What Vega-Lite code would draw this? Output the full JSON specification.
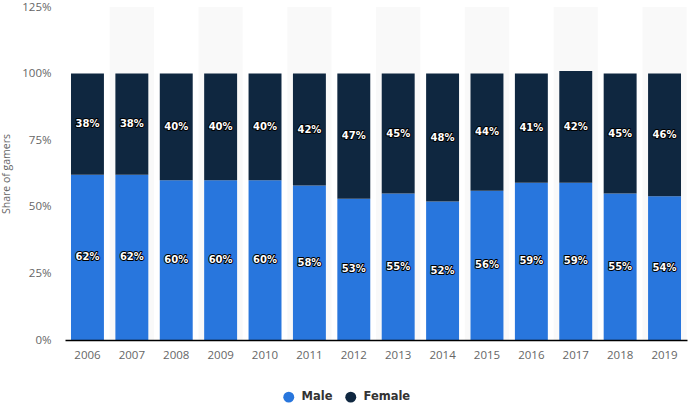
{
  "$schema": "https://vega.github.io/schema/vega-lite/v6.json",
  "width": 622,
  "height": 333,
  "autosize": {"type": "none"},
  "padding": {"left": 65, "top": 7, "right": 7, "bottom": 68},
  "background": "white",
  "config": {"view": {"stroke": null}, "font": "Open Sans"},
  "data": {
    "values": [
      {"year": 2006, "sex": "Male", "share": 0.62}, {"year": 2006, "sex": "Female", "share": 0.38},
      {"year": 2007, "sex": "Male", "share": 0.62}, {"year": 2007, "sex": "Female", "share": 0.38},
      {"year": 2008, "sex": "Male", "share": 0.60}, {"year": 2008, "sex": "Female", "share": 0.40},
      {"year": 2009, "sex": "Male", "share": 0.60}, {"year": 2009, "sex": "Female", "share": 0.40},
      {"year": 2010, "sex": "Male", "share": 0.60}, {"year": 2010, "sex": "Female", "share": 0.40},
      {"year": 2011, "sex": "Male", "share": 0.58}, {"year": 2011, "sex": "Female", "share": 0.42},
      {"year": 2012, "sex": "Male", "share": 0.53}, {"year": 2012, "sex": "Female", "share": 0.47},
      {"year": 2013, "sex": "Male", "share": 0.55}, {"year": 2013, "sex": "Female", "share": 0.45},
      {"year": 2014, "sex": "Male", "share": 0.52}, {"year": 2014, "sex": "Female", "share": 0.48},
      {"year": 2015, "sex": "Male", "share": 0.56}, {"year": 2015, "sex": "Female", "share": 0.44},
      {"year": 2016, "sex": "Male", "share": 0.59}, {"year": 2016, "sex": "Female", "share": 0.41},
      {"year": 2017, "sex": "Male", "share": 0.59}, {"year": 2017, "sex": "Female", "share": 0.42},
      {"year": 2018, "sex": "Male", "share": 0.55}, {"year": 2018, "sex": "Female", "share": 0.45},
      {"year": 2019, "sex": "Male", "share": 0.54}, {"year": 2019, "sex": "Female", "share": 0.46}
    ]
  },
  "encoding": {
    "x": {
      "field": "year",
      "type": "ordinal",
      "scale": {"paddingInner": 0.258, "paddingOuter": 0.135},
      "axis": {
        "title": null,
        "labelAngle": 0,
        "ticks": false,
        "grid": false,
        "domainColor": "#000",
        "domainWidth": 1.5,
        "labelPadding": 9,
        "labelColor": "#666",
        "labelFontSize": 11.5,
        "zindex": 1
      }
    }
  },
  "layer": [
    {
      "transform": [{"filter": "datum.sex == 'Male' && datum.year % 2 == 1"}],
      "mark": {"type": "bar", "color": "#000", "opacity": 0.022, "width": {"band": 1.348}},
      "encoding": {
        "y": {
          "datum": 1.25,
          "type": "quantitative",
          "scale": {"domain": [0, 1.25], "nice": false},
          "axis": {
            "format": ".0%",
            "values": [0, 0.25, 0.5, 0.75, 1, 1.25],
            "title": "Share of gamers",
            "titleFontSize": 10.5,
            "titleFontWeight": "normal",
            "titleColor": "#666",
            "titlePadding": 10,
            "labelColor": "#666",
            "labelFontSize": 11.5,
            "labelPadding": 14,
            "ticks": false,
            "domain": false,
            "gridDash": [1, 2],
            "gridColor": "#c4c4c4"
          }
        },
        "y2": {"datum": 0}
      }
    },
    {
      "mark": {"type": "bar"},
      "encoding": {
        "y": {"field": "share", "type": "quantitative", "stack": "zero"},
        "color": {
          "field": "sex",
          "type": "nominal",
          "scale": {"domain": ["Male", "Female"], "range": ["#2876dd", "#0f2740"]},
          "legend": {
            "orient": "none",
            "legendX": 218,
            "legendY": 384,
            "direction": "horizontal",
            "title": null,
            "symbolType": "circle",
            "symbolSize": 120,
            "symbolStrokeWidth": 0,
            "labelFontSize": 11.5,
            "labelFont": "DejaVu Sans",
            "labelFontWeight": "bold",
            "labelColor": "#333",
            "columnPadding": 12,
            "labelOffset": 7,
            "padding": 0
          }
        },
        "order": {"field": "sex", "sort": "descending"}
      }
    },
    {
      "transform": [
        {"stack": "share", "groupby": ["year"], "sort": [{"field": "sex", "order": "descending"}], "as": ["y0", "y1"]},
        {"calculate": "(datum.y0 + datum.y1) / 2", "as": "mid"}
      ],
      "mark": {"type": "text", "font": "DejaVu Sans", "fontWeight": "bold", "fontSize": 10, "fill": "#fff", "stroke": "#000", "strokeWidth": 2, "strokeJoin": "round", "baseline": "middle"},
      "encoding": {
        "y": {"field": "mid", "type": "quantitative"},
        "text": {"field": "share", "type": "quantitative", "format": ".0%"}
      }
    },
    {
      "transform": [
        {"stack": "share", "groupby": ["year"], "sort": [{"field": "sex", "order": "descending"}], "as": ["y0", "y1"]},
        {"calculate": "(datum.y0 + datum.y1) / 2", "as": "mid"}
      ],
      "mark": {"type": "text", "font": "DejaVu Sans", "fontWeight": "bold", "fontSize": 10, "fill": "#fff", "baseline": "middle"},
      "encoding": {
        "y": {"field": "mid", "type": "quantitative"},
        "text": {"field": "share", "type": "quantitative", "format": ".0%"}
      }
    }
  ]
}
